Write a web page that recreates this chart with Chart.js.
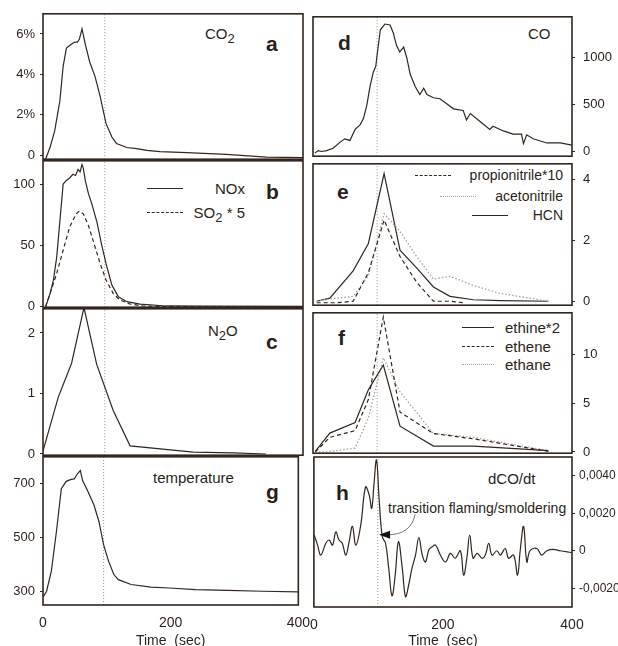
<!DOCTYPE html>
<html>
<head>
<meta charset="utf-8">
<script src="https://cdn.jsdelivr.net/npm/chart.js@4.4.0/dist/chart.umd.min.js"></script>
<style>
body { margin:0; background:#fff; width:618px; height:646px; position:relative; overflow:hidden;
       font-family:"Liberation Sans", Arial, sans-serif; color:#2a1f1a; }
.box { position:absolute; }
.t { position:absolute; white-space:nowrap; line-height:1; font-size:15px; }
.big { position:absolute; line-height:1; font-size:21px; font-weight:bold; }
.t sub { font-size:13px; vertical-align:-4px; line-height:0; }
.row { position:absolute; display:flex; align-items:center; white-space:nowrap; font-size:15px; line-height:1; }
.smp { display:inline-block; width:36px; height:0; margin-right:8px; }
</style>
</head>
<body>

<!-- panel labels -->
<div class="t" style="left:205px;top:26px">CO<sub>2</sub></div>
<div class="big" style="left:266px;top:33px">a</div>

<div class="row" style="left:147px;top:181px"><span class="smp" style="border-top:1.3px solid #33261f"></span><span style="width:54px;text-align:right">NOx</span></div>
<div class="row" style="left:147px;top:205px"><span class="smp" style="border-top:1.3px dashed #33261f"></span><span style="width:54px;text-align:right">SO<sub style="font-size:13px;vertical-align:-4px;line-height:0">2</sub> * 5</span></div>
<div class="big" style="left:266px;top:181px">b</div>

<div class="t" style="left:208px;top:323px">N<sub>2</sub>O</div>
<div class="big" style="left:266px;top:331px">c</div>

<div class="t" style="left:153px;top:470px">temperature</div>
<div class="big" style="left:266px;top:481px">g</div>

<div class="big" style="left:338px;top:32px">d</div>
<div class="t" style="left:528px;top:26px">CO</div>

<div class="big" style="left:337px;top:181px">e</div>
<div class="row" style="left:415px;top:168px;font-size:14px"><span class="smp" style="border-top:1.3px dashed #33261f"></span><span style="width:104px;text-align:right">propionitrile*10</span></div>
<div class="row" style="left:440px;top:189px;font-size:14px"><span class="smp" style="border-top:1.5px dotted #aaa29d"></span><span style="width:79px;text-align:right">acetonitrile</span></div>
<div class="row" style="left:472px;top:208px;font-size:14px"><span class="smp" style="border-top:1.3px solid #33261f"></span><span style="width:47px;text-align:right">HCN</span></div>

<div class="big" style="left:338px;top:327px">f</div>
<div class="row" style="left:462px;top:320px"><span class="smp" style="width:32px;margin-right:11px;border-top:1.3px solid #33261f"></span>ethine*2</div>
<div class="row" style="left:462px;top:339px"><span class="smp" style="width:32px;margin-right:11px;border-top:1.3px dashed #33261f"></span>ethene</div>
<div class="row" style="left:462px;top:357px"><span class="smp" style="width:32px;margin-right:11px;border-top:1.5px dotted #aaa29d"></span>ethane</div>

<div class="big" style="left:336px;top:482px">h</div>
<div class="t" style="left:488px;top:471px">dCO/dt</div>
<div class="t" style="left:388px;top:501px;font-size:14px">transition flaming/smoldering</div>

<script>
// ---- data (time in sec) ----
var co2Time = [4, 11, 18, 26, 31, 36, 44, 49, 53, 56, 60, 65, 72, 80, 88, 97, 106, 113, 129, 144, 160, 180, 221, 282, 344, 400];
var co2Val  = [-0.2, 0.4, 1.2, 2.7, 4.4, 5.3, 5.5, 5.6, 5.6, 5.75, 6.25, 5.5, 4.6, 3.9, 2.9, 1.56, 0.9, 0.58, 0.38, 0.32, 0.24, 0.18, 0.13, 0.04, -0.1, -0.12];
var co2Ticks = [0, 2, 4, 6];

var noxTime = [4, 11, 16, 21, 26, 31, 36, 41, 46, 50, 54, 57, 60, 62, 65, 70, 75, 83, 90, 97, 106, 116, 129, 149, 190, 250, 400];
var noxVal  = [0, 10.8, 21.6, 40, 70, 100, 103, 105, 108, 107, 112, 110, 116, 113, 103, 92, 84, 69, 51, 35, 17.5, 8, 4, 2, 0.5, 0.3, 0.2];
var so2Time = [4, 11, 21, 31, 41, 51, 56, 62, 70, 77, 88, 97, 108, 118, 133, 153, 190, 400];
var so2Val  = [0, 10.8, 27, 46, 65, 75.7, 78, 75.7, 66, 54, 35, 21.6, 10.8, 5.4, 2.2, 0.5, 0, 0];
var noxTicks = [0, 50, 100];

var n2oTime = [0.5, 23.5, 44, 63, 82.6, 108, 134, 231, 292, 343];
var n2oVal  = [0.07, 0.94, 1.5, 2.42, 1.48, 0.72, 0.135, 0.03, 0.02, 0];
var n2oTicks = [0, 1, 2];

var tempTime = [0, 5.6, 13, 21, 28.7, 36.4, 44, 49, 54, 58.5, 62, 69.7, 80, 87.7, 95, 103, 111, 118, 138, 169, 198, 239, 290, 344, 400];
var tempVal  = [279, 301, 375, 522, 682, 709, 716, 718, 737, 749, 712, 675, 620, 559, 473, 411, 363, 344, 326, 316, 313, 307, 304, 301, 299];
var tempTicks = [300, 500, 700];

var coTime = [3, 8, 13, 21, 31, 42, 49, 57, 65, 73, 78, 83, 88, 93, 97, 99, 104, 111, 119, 124, 129, 134, 140, 145, 150, 158, 165, 171, 176, 186, 196, 207, 217, 232, 237, 243, 258, 273, 278, 294, 309, 322, 325, 330, 340, 361, 382, 400];
var coVal  = [-17, 10, 0, 10, 34, 100, 135, 118, 235, 286, 353, 488, 690, 842, 909, 1027, 1296, 1357, 1347, 1262, 1128, 1060, 1111, 993, 825, 690, 606, 673, 606, 572, 562, 505, 454, 437, 337, 404, 320, 235, 269, 219, 185, 185, 84, 178, 135, 91, 91, 67];
var coTicks = [0, 500, 1000];

var nitTime  = [5.7, 26, 62, 85.5, 109.8, 134.4, 160, 186, 211.6, 247.6, 289, 363.5];
var hcnVal   = [0, 0.1, 1.0, 1.9, 4.2, 1.68, 1.1, 0.47, 0.16, 0.05, 0.02, 0];
var acetoVal = [0, 0.08, 0.16, 0.84, 2.88, 2.3, 1.47, 0.73, 0.82, 0.52, 0.26, 0];
var propTime = [5.7, 36.5, 62, 85.5, 109.8, 134.4, 160, 186, 211.6, 232];
var propVal  = [-0.05, -0.05, 0, 0.94, 2.67, 1.47, 0.63, 0, 0, -0.05];
var nitTicks = [0, 2, 4];

var hcTime    = [3.6, 26, 65, 85.5, 108.6, 134.4, 186, 247.6, 363.5];
var ethineVal = [0.06, 1.94, 3.04, 6.4, 8.96, 2.65, 0.6, 0.6, 0.13];
var etheneVal = [0, 1.5, 2.2, 5.4, 13.9, 4.1, 1.9, 1.35, 0.06];
var ethaneVal = [0, 0.05, 0.4, 3.5, 9.7, 6.2, 1.9, 1.5, 0.13];
var hcTicks = [0, 5, 10];

var dcoTime = [0.5, 5.7, 10.8, 18.5, 23.7, 28.8, 34, 39, 44, 49.4, 54.6, 59.7, 65, 72.6, 80, 85.5, 89.6, 93, 97, 101, 106, 111, 116, 121, 126, 131, 137, 142, 147, 152, 157.5, 162.7, 168, 173, 178, 183, 188.5, 196, 204, 211.6, 219, 227, 232, 237, 241.5, 246.7, 253, 260.6, 265.7, 271, 276, 283.7, 289, 296.5, 301.7, 309.5, 315.6, 319.7, 325, 330, 335, 345.4, 353, 361, 371, 381.5, 399];
var dcoVal  = [0.00084, 0.0003, -0.00023, 0.0004, 0.00057, 0.0003, 0.001, 0.00057, 0.0004, -0.00023, 0.00048, 0.0013, 0.0003, 0.00137, 0.0034, 0.003, 0.00226, 0.0035, 0.00484, 0.0028, 0.00075, 0.0004, -0.00094, -0.0024, -0.0013, 0.00048, -0.00094, -0.00245, -0.0018, -0.00094, -0.00023, 0.0007, -0.00023, -0.0006, 0.00004, 0.0002, 0.0003, -0.00023, -0.0006, -0.00014, -0.0004, 0, -0.0013, -0.0004, 0.00084, -0.0004, -0.00014, -0.0004, -0.00023, 0.0004, -0.00023, 0, -0.00023, 0.00012, -0.0004, -0.00023, -0.0013, 0, 0.0013, -0.0006, 0, 0.00012, -0.00023, 0, 0.00007, 0, -0.0001];
var dcoTicks = [-0.002, 0, 0.002, 0.004];
var arrowFrom = [157, 0.00195];
var arrowTo = [101, 0.00085];

var timeTicks = [0, 200, 400];

// ---- drawing ----
var ink = '#33261f';
var light = '#aaa29d';
Chart.defaults.font.family = '"Liberation Sans", Arial, sans-serif';
Chart.defaults.font.size = 13;
Chart.defaults.color = '#2a1f1a';

var frame = {
    id: 'frame',
    afterDraw: function(chart) {
        var a = chart.chartArea, ctx = chart.ctx;
        ctx.save();
        ctx.strokeStyle = ink;
        ctx.lineWidth = 1.6;
        ctx.strokeRect(a.left, a.top, a.right - a.left, a.bottom - a.top);
        ctx.restore();
    }
};

var arrow = {
    id: 'arrow',
    afterDatasetsDraw: function(chart) {
        if (!chart.options.plugins.arrow || !chart.options.plugins.arrow.on) return;
        var x = chart.scales.x, y = chart.scales.y, ctx = chart.ctx;
        var x0 = x.getPixelForValue(arrowFrom[0]), y0 = y.getPixelForValue(arrowFrom[1]);
        var x1 = x.getPixelForValue(arrowTo[0]), y1 = y.getPixelForValue(arrowTo[1]);
        ctx.save();
        ctx.strokeStyle = '#777';
        ctx.lineWidth = 1;
        ctx.beginPath();
        ctx.moveTo(x0, y0);
        ctx.quadraticCurveTo(x0 - 4, y1, x1 + 8, y1);
        ctx.stroke();
        ctx.fillStyle = '#111';
        ctx.beginPath();
        ctx.moveTo(x1, y1);
        ctx.lineTo(x1 + 11, y1 - 4);
        ctx.lineTo(x1 + 11, y1 + 4);
        ctx.closePath();
        ctx.fill();
        ctx.restore();
    }
};

function pts(t, v) {
    var out = [];
    for (var i = 0; i < t.length; i++) out.push({x: t[i], y: v[i]});
    return out;
}

function line(t, v, style) {
    var ds = {data: pts(t, v), borderColor: ink, borderWidth: 1.2, pointRadius: 0, tension: 0, fill: false};
    if (style == 'dash') ds.borderDash = [4, 3];
    if (style == 'dot') { ds.borderDash = [1.5, 2]; ds.borderColor = light; ds.borderWidth = 1.3; }
    if (style == 'smooth') ds.tension = 0.4;
    return ds;
}

function panel(o) {
    var left = o.col == 'L';
    var last = !!o.xaxis;
    var cTop = o.top - 12;
    var cH = last ? 646 - cTop : (o.bottom - o.top) + 24;
    var cLeft = left ? 0 : 300;
    var cW = left ? 320 : 318;

    var div = document.createElement('div');
    div.className = 'box';
    div.style.left = cLeft + 'px';
    div.style.top = cTop + 'px';
    div.style.width = cW + 'px';
    div.style.height = cH + 'px';
    var cv = document.createElement('canvas');
    div.appendChild(cv);
    document.body.appendChild(div);

    var ds = o.series.slice();
    // reference line through the flaming/smoldering transition
    ds.push({data: [{x: o.refX, y: o.ymin}, {x: o.refX, y: o.ymax}], borderColor: '#9a9490',
             borderWidth: 1, borderDash: [1, 2], pointRadius: 0});

    new Chart(cv, {
        type: 'line',
        data: {datasets: ds},
        plugins: [frame, arrow],
        options: {
            animation: false,
            responsive: true,
            maintainAspectRatio: false,
            events: [],
            layout: {
                autoPadding: false,
                padding: left ? {left: 0, right: cW - 303, top: 12, bottom: last ? 0 : 12}
                              : {left: 13, right: 0, top: 12, bottom: last ? 0 : 12}
            },
            plugins: {legend: {display: false}, tooltip: {enabled: false}, arrow: {on: !!o.arrow}},
            scales: {
                x: {
                    type: 'linear', min: 0, max: 400, display: last,
                    grid: {display: false, drawTicks: false},
                    border: {display: false},
                    afterBuildTicks: function(s) { s.ticks = timeTicks.map(function(v) { return {value: v}; }); },
                    afterFit: function(s) { if (last) s.height = 646 - o.bottom; },
                    ticks: {padding: 10, maxRotation: 0, font: {size: 14}},
                    title: {display: true, text: 'Time  (sec)', font: {size: 14}, padding: {top: 0, bottom: -4}}
                },
                y: {
                    position: left ? 'left' : 'right',
                    min: o.ymin, max: o.ymax,
                    grid: {drawOnChartArea: false, tickLength: 3, color: ink},
                    border: {display: false},
                    afterBuildTicks: function(s) { s.ticks = o.ticks.map(function(v) { return {value: v}; }); },
                    afterFit: function(s) { s.width = left ? 43 : 46; },
                    ticks: {padding: o.tickPad || (left ? 5 : 8), font: {size: o.tickSize || 13}, callback: o.fmt || function(v) { return String(v); }}
                }
            }
        }
    });
}

panel({col: 'L', top: 13, bottom: 160, ymin: -0.2, ymax: 7.0, ticks: co2Ticks, refX: 95,
       fmt: function(v) { return v == 0 ? '0' : v + '%'; },
       series: [line(co2Time, co2Val)]});
panel({col: 'L', top: 160, bottom: 308, ymin: -0.5, ymax: 119, ticks: noxTicks, refX: 95,
       series: [line(noxTime, noxVal), line(so2Time, so2Val, 'dash')]});
panel({col: 'L', top: 308, bottom: 456, ymin: -0.02, ymax: 2.4, ticks: n2oTicks, refX: 95,
       series: [line(n2oTime, n2oVal)]});
panel({col: 'L', top: 456, bottom: 605, ymin: 250, ymax: 800, ticks: tempTicks, refX: 95, xaxis: true,
       series: [line(tempTime, tempVal)]});

panel({col: 'R', top: 13, bottom: 160, ymin: -50, ymax: 1434, ticks: coTicks, refX: 99,
       series: [line(coTime, coVal)]});
panel({col: 'R', top: 160, bottom: 309, ymin: -0.13, ymax: 4.52, ticks: nitTicks, refX: 99,
       series: [line(propTime, propVal, 'dash'), line(nitTime, acetoVal, 'dot'), line(nitTime, hcnVal)]});
panel({col: 'R', top: 309, bottom: 457, ymin: -0.13, ymax: 14.34, ticks: hcTicks, refX: 99,
       series: [line(hcTime, ethineVal), line(hcTime, etheneVal, 'dash'), line(hcTime, ethaneVal, 'dot')]});
panel({col: 'R', top: 457, bottom: 607, ymin: -0.003, ymax: 0.005, ticks: dcoTicks, refX: 99, xaxis: true, arrow: true,
       tickSize: 12, tickPad: 4,
       fmt: function(v) { return v == 0 ? '0' : v.toFixed(4).replace('.', ','); },
       series: [line(dcoTime, dcoVal, 'smooth')]});
</script>
</body>
</html>
